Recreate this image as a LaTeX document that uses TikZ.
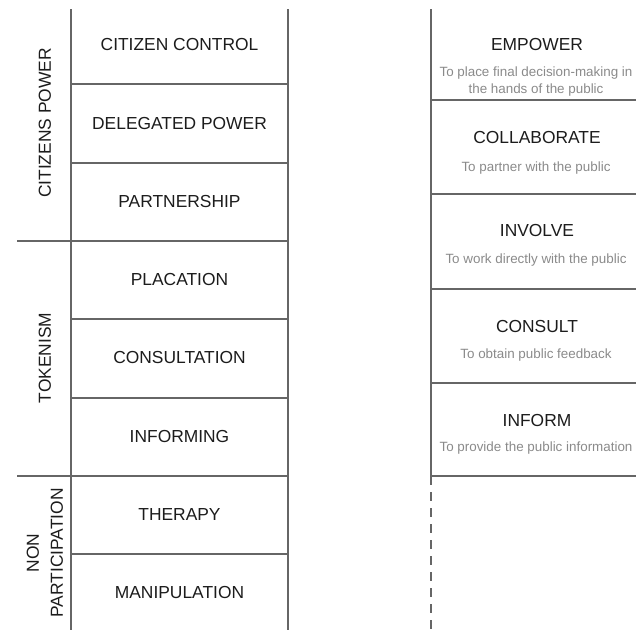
\documentclass[tikz,border=0pt]{standalone}
\usepackage{fontspec}
\setmainfont{Liberation Sans}
\usetikzlibrary{positioning}
\definecolor{rulegray}{HTML}{666666}
\definecolor{titlegray}{HTML}{1C1C1C}
\definecolor{notegray}{HTML}{8A8A8A}
\tikzset{
  rule/.style={draw=rulegray, line width=1.5pt},
  rung/.style={text=titlegray, font=\fontsize{17.4}{18}\selectfont},
  group/.style={text=titlegray, font=\fontsize{17.4}{24}\selectfont, rotate=90, align=center},
  level/.style={text=titlegray, font=\fontsize{17.4}{18}\selectfont},
  note/.style={text=notegray, font=\fontsize{13.4}{17}\selectfont, align=center}
}

\begin{document}
\begin{tikzpicture}[x=1pt,y=-1pt]
    \useasboundingbox (0,0) rectangle (636,630);
    % ladder of participation
    \draw[rule] (71,9) -- (71,630);  %left side
    \draw[rule] (288,9) -- (288,630);  %right side
    \foreach \y in {84,163,241,319,398,476,554}
    {
      \draw[rule] (71,\y) -- (288,\y);
    };
    \draw[rule] (17,241) -- (71,241);  %group separators
    \draw[rule] (17,476) -- (71,476);
    \foreach \name/\i in
    {
      CITIZEN CONTROL/0,
      DELEGATED POWER/1,
      PARTNERSHIP/2,
      PLACATION/3,
      CONSULTATION/4,
      INFORMING/5,
      THERAPY/6,
      MANIPULATION/7
    }
    {
      \pgfmathsetmacro\yc{45 + \i * 78.2}
      \node[rung] (rung\i) at (179.5,\yc) {\name};
    };
    \node[group] (citizens) at (45,123) {CITIZENS POWER};
    \node[group] (tokenism) at (45,358) {TOKENISM};
    \node[group] (nonpart) at (45,553) {NON\\PARTICIPATION};
    % spectrum of public participation
    \draw[rule] (431,9) -- (431,476);
    \draw[rule, dash pattern=on 9pt off 7pt] (431,476) -- (431,630);  %open end
    \foreach \y in {100,194,289,383,476}
    {
      \draw[rule] (431,\y) -- (636,\y);
    };
    \foreach \level/\text/\y/\ny in
    {
      EMPOWER/{To place final decision-making in\\the hands of the public}/45/81.5,
      COLLABORATE/{To partner with the public}/138/168,
      INVOLVE/{To work directly with the public}/231/260,
      CONSULT/{To obtain public feedback}/326/355,
      INFORM/{To provide the public information}/420/448
    }
    {
      \node[level] (lvl\level) at (537,\y) {\level};
      \node[note] (note\level) at (536,\ny) {\text};
    };
\end{tikzpicture}
\end{document}
